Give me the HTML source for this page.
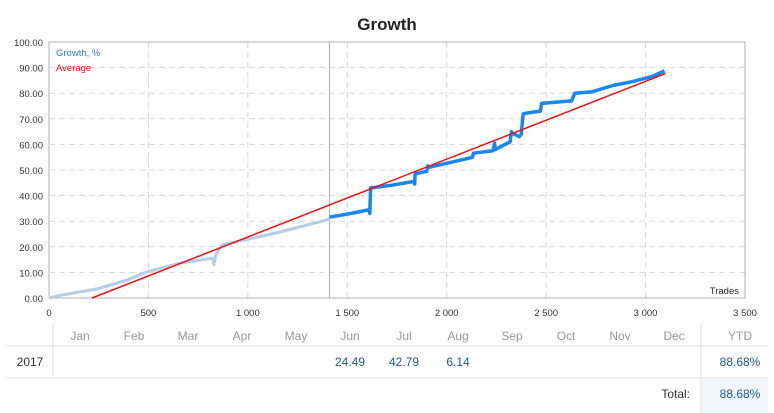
<!DOCTYPE html>
<html><head><meta charset="utf-8"><style>
body{margin:0;background:#fff;font-family:"Liberation Sans",sans-serif;}
#wrap{position:relative;width:774px;height:413px;overflow:hidden;}
svg text{font-family:"Liberation Sans",sans-serif;}
</style></head><body>
<div id="wrap">
<svg id="chart" width="774" height="413"></svg>
</div>
<script>
const xTicks=[0,500,1000,1500,2000,2500,3000,3500];
const xTickLabels=["0","500","1 000","1 500","2 000","2 500","3 000","3 500"];
const yTicks=[0,10,20,30,40,50,60,70,80,90,100];
const historyTrades=[0,56,241,392,492,657,824,829,839,869,1025,1161,1397,1411];
const historyValues=[0,1,3.5,7,10.2,13.6,15.6,13,17,20.7,23.4,25.8,30.5,31];
const growthTrades=[1411,1516,1607,1613,1617,1718,1834,1839,1841,1900,1905,1907,2021,2122,2130,2134,2233,2241,2245,2319,2326,2329,2365,2375,2382,2385,2425,2471,2477,2628,2644,2729,2835,2931,3032,3095];
const growthValues=[31.6,33,34.4,33,43,44,45.5,44.5,48.5,49.5,51.6,51,53,54.8,55,56.6,57.5,60.5,58,61,65,64.5,63,64,70.3,72,72.5,73,76,77,80,80.5,83,84.5,86.5,88.7];
const avgTrades=[216,3100];
const avgValues=[0,87.7];
const splitTrade=1411;
const months=["Jan","Feb","Mar","Apr","May","Jun","Jul","Aug","Sep","Oct","Nov","Dec"];
const monthValues=["","","","","","24.49","42.79","6.14","","","",""];
const ytd="88.68%";const total="88.68%";

const L=49,R=745,T=42,B=298;
const X=v=>L+v*(R-L)/3500;
const Y=v=>B-v*(B-T)/100;
const svg=document.getElementById('chart');const NS="http://www.w3.org/2000/svg";
function mk(tag,attrs,name,txt){const e=document.createElementNS(NS,tag);for(const k in attrs)e.setAttribute(k,attrs[k]);


if(txt!==undefined)e.textContent=txt;svg.appendChild(e);return e;}
mk('text',{x:387,y:30,'text-anchor':'middle','font-size':17,'font-weight':'bold',fill:'#222'},'chart-title','Growth');
yTicks.forEach(v=>{if(v>0&&v<100)mk('line',{x1:L,x2:R,y1:Y(v),y2:Y(v),stroke:'#d8d8d8','stroke-dasharray':'6,4'},'y-grid-line');
mk('text',{x:43,y:Y(v)+4,'text-anchor':'end','font-size':9.5,fill:'#333'},'y-tick-label',v.toFixed(2));});
xTicks.forEach((v,i)=>{if(v>0&&v<3500)mk('line',{x1:X(v),x2:X(v),y1:T,y2:B,stroke:'#d8d8d8','stroke-dasharray':'6,4'},'x-grid-line');
mk('text',{x:X(v),y:316,'text-anchor':'middle','font-size':9.5,fill:'#333'},'x-tick-label',xTickLabels[i]);});
mk('line',{x1:X(splitTrade),x2:X(splitTrade),y1:T,y2:B,stroke:'#aaa','stroke-width':1},'history-split-line');
mk('rect',{x:L,y:T,width:R-L,height:B-T,fill:'none',stroke:'#b0b0b0'},'plot-border');
const pts=(a,b)=>a.map((t,i)=>X(t).toFixed(1)+','+Y(b[i]).toFixed(1)).join(' ');
mk('polyline',{points:pts(historyTrades,historyValues),fill:'none',stroke:'#b4cde8','stroke-width':3,'stroke-linejoin':'round'},'history-growth-line');
mk('polyline',{points:pts(growthTrades,growthValues),fill:'none',stroke:'#1a86f0','stroke-width':3.5,'stroke-linejoin':'round'},'growth-line');
mk('polyline',{points:pts(avgTrades,avgValues),fill:'none',stroke:'#ee1111','stroke-width':1.5},'average-line');
mk('text',{x:56,y:56,'font-size':9.5,fill:'#2a7fd8'},'legend-growth','Growth, %');
mk('text',{x:56,y:71,'font-size':9.5,fill:'#e01010'},'legend-average','Average');
mk('text',{x:739,y:294,'text-anchor':'end','font-size':9.5,fill:'#222'},'x-axis-title','Trades');
mk('line',{x1:53,x2:53,y1:324,y2:378,stroke:'#ddd'},'table-divider');
mk('line',{x1:701,x2:701,y1:324,y2:413,stroke:'#ddd'},'table-divider');
mk('line',{x1:7,x2:768,y1:346,y2:346,stroke:'#ddd'},'table-row-line');
mk('line',{x1:7,x2:768,y1:378,y2:378,stroke:'#ddd'},'table-row-line');
mk('rect',{x:702,y:379,width:66,height:34,fill:'#f2f5fa'},'total-cell-bg');
months.forEach((m,i)=>{const cx=80+i*54;
mk('text',{x:cx,y:340,'text-anchor':'middle','font-size':12,fill:'#999'},'month-header-'+m.toLowerCase(),m);
if(monthValues[i])mk('text',{x:cx,y:366,'text-anchor':'middle','font-size':12,fill:'#1a5a9a'},'month-value-'+m.toLowerCase(),monthValues[i]);});
mk('text',{x:740,y:340,'text-anchor':'middle','font-size':12,fill:'#999'},'ytd-header','YTD');
mk('text',{x:30,y:366,'text-anchor':'middle','font-size':12,fill:'#333'},'year-label','2017');
mk('text',{x:740,y:366,'text-anchor':'middle','font-size':12,fill:'#1a5a9a'},'ytd-value',ytd);
mk('text',{x:690,y:398,'text-anchor':'end','font-size':12,fill:'#333'},'total-label','Total:');
mk('text',{x:740,y:398,'text-anchor':'middle','font-size':12,fill:'#1a5a9a'},'total-value',total);
</script></body></html>
